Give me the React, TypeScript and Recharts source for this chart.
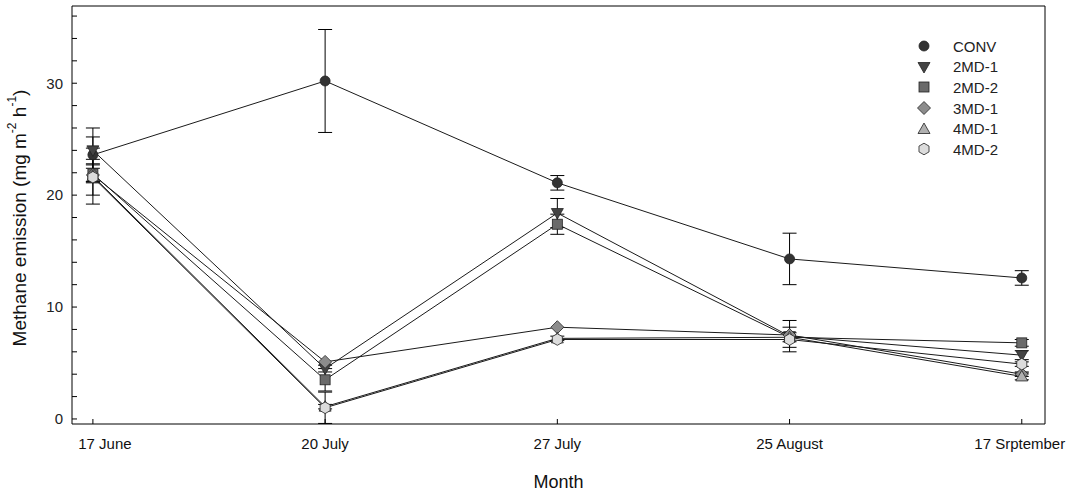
import React from 'react';
import { LineChart, Line, XAxis, YAxis, ErrorBar, ReferenceLine } from 'recharts';

// sampling dates (category axis)
const months = ['17 June', '20 July', '27 July', '25 August', '17 Srptember'];

// methane emission means and standard errors
const conv = [23.6, 30.2, 21.1, 14.3, 12.6];
const convErr = [2.4, 4.6, 0.65, 2.3, 0.65];
const md2a = [24.0, 4.5, 18.4, 7.4, 5.7];
const md2aErr = [1.2, 0.3, 1.3, 1.4, 0.4];
const md2b = [21.9, 3.5, 17.4, 7.3, 6.8];
const md2bErr = [0.8, 1.0, 0.9, 0.4, 0.3];
const md3a = [21.8, 5.1, 8.2, 7.5, 4.0];
const md3aErr = [0.6, 0, 0, 0, 0.2];
const md4a = [21.7, 1.1, 7.2, 7.3, 3.8];
const md4aErr = [2.5, 0.2, 0.2, 0.9, 0.3];
const md4b = [21.6, 1.0, 7.1, 7.1, 4.9];
const md4bErr = [1.6, 1.4, 0, 0, 0.2];

const yTicks = [0, 2, 4, 6, 8, 10, 12, 14, 16, 18, 20, 22, 24, 26, 28, 30, 32, 34, 36];
const yDomain: [number, number] = [-0.45, 36.9];

type Kind = 'circle' | 'triDown' | 'square' | 'diamond' | 'triUp' | 'hexagon';

const series: { name: string; key: string; values: number[]; errors: number[]; fill: string; kind: Kind }[] = [
  { name: 'CONV', key: 'conv', values: conv, errors: convErr, fill: '#333333', kind: 'circle' },
  { name: '2MD-1', key: 'md2a', values: md2a, errors: md2aErr, fill: '#444444', kind: 'triDown' },
  { name: '2MD-2', key: 'md2b', values: md2b, errors: md2bErr, fill: '#6a6a6a', kind: 'square' },
  { name: '3MD-1', key: 'md3a', values: md3a, errors: md3aErr, fill: '#8c8c8c', kind: 'diamond' },
  { name: '4MD-1', key: 'md4a', values: md4a, errors: md4aErr, fill: '#b0b0b0', kind: 'triUp' },
  { name: '4MD-2', key: 'md4b', values: md4b, errors: md4bErr, fill: '#dcdcdc', kind: 'hexagon' },
];

const data = months.map((m, i) => {
  const row: any = { x: i, month: m };
  series.forEach((s) => {
    row[s.key] = s.values[i];
    row[s.key + 'Err'] = s.errors[i] || null;
  });
  return row;
});

const Marker = ({ kind, cx, cy, fill }: { kind: Kind; cx: number; cy: number; fill: string }) => {
  const common = { fill, stroke: '#222', strokeWidth: 0.8 };
  switch (kind) {
    case 'circle':
      return <circle cx={cx} cy={cy} r={5} {...common} />;
    case 'triDown':
      return <polygon points={`${cx - 6},${cy - 4.5} ${cx + 6},${cy - 4.5} ${cx},${cy + 6}`} {...common} />;
    case 'triUp':
      return <polygon points={`${cx - 6},${cy + 4.5} ${cx + 6},${cy + 4.5} ${cx},${cy - 6}`} {...common} />;
    case 'square':
      return <rect x={cx - 5} y={cy - 5} width={10} height={10} {...common} />;
    case 'diamond':
      return <polygon points={`${cx},${cy - 6.5} ${cx + 6.5},${cy} ${cx},${cy + 6.5} ${cx - 6.5},${cy}`} {...common} />;
    default: {
      const pts = [0, 1, 2, 3, 4, 5]
        .map((k) => {
          const a = ((-90 + 60 * k) * Math.PI) / 180;
          return `${cx + 5.8 * Math.cos(a)},${cy + 5.8 * Math.sin(a)}`;
        })
        .join(' ');
      return <polygon points={pts} {...common} />;
    }
  }
};

const LegendBox = () => (
  <div
    style={{
      position: 'absolute',
      left: 914,
      top: 36,
      fontFamily: '"Liberation Sans", Arial, sans-serif',
      fontSize: 15,
      color: '#222',
    }}
  >
    {series.map((s) => (
      <div key={s.key} style={{ display: 'flex', alignItems: 'center', height: 20.6 }}>
        <svg width={20} height={16} style={{ marginRight: 19 }}>
          <Marker kind={s.kind} cx={10} cy={8} fill={s.fill} />
        </svg>
        <span>{s.name}</span>
      </div>
    ))}
  </div>
);

const YLabel = (props: any) => {
  const vb = props.viewBox || {};
  const cx = (vb.x || 0) + 19;
  const cy = (vb.y || 0) + (vb.height || 0) / 2 + 3;
  return (
    <text
      x={cx}
      y={cy}
      transform={`rotate(-90 ${cx} ${cy})`}
      textAnchor="middle"
      dominantBaseline="central"
      fontSize={19}
      fill="#111"
    >
      Methane emission (mg m
      <tspan fontSize={12} dy={-7}>-2</tspan>
      <tspan dy={7}> h</tspan>
      <tspan fontSize={12} dy={-7}>-1</tspan>
      <tspan dy={7}>)</tspan>
    </text>
  );
};

const XLabel = (props: any) => {
  const vb = props.viewBox || {};
  return (
    <text x={(vb.x || 0) + (vb.width || 0) / 2} y={(vb.y || 0) + 64} textAnchor="middle" fontSize={18} fill="#111">
      Month
    </text>
  );
};

const XTick = (props: any) => {
  const { x, y, payload } = props;
  const shift = payload.value === 0 ? 12 : payload.value === 4 ? -2 : 0;
  return (
    <text x={x + shift} y={y} dy={11.5} textAnchor="middle" fontSize={15} fill="#111">
      {months[payload.value]}
    </text>
  );
};

export default function App() {
  return (
    <div
      style={{
        position: 'absolute',
        left: 0,
        top: 0,
        width: 1068,
        height: 498,
        background: '#fff',
        fontFamily: '"Liberation Sans", Arial, sans-serif',
      }}
    >
      <LineChart width={1068} height={498} data={data} margin={{ top: 6, right: 0, bottom: 0, left: 0 }}>
        <XAxis
          dataKey="x"
          type="number"
          domain={[-0.09, 4.1]}
          ticks={[0, 1, 2, 3, 4]}
          height={74}
          tick={<XTick />}
          tickSize={-5}
          tickMargin={18}
          stroke="#000"
          allowDataOverflow
          label={<XLabel />}
        />
        <YAxis
          type="number"
          domain={yDomain}
          ticks={yTicks}
          tickFormatter={(v: number) => (v % 10 === 0 ? String(v) : '')}
          width={72}
          tickSize={-5}
          tickMargin={14}
          tick={{ fontSize: 15, fill: '#222' }}
          stroke="#000"
          allowDataOverflow
          label={<YLabel />}
        />
        <YAxis
          yAxisId="right"
          orientation="right"
          type="number"
          domain={yDomain}
          ticks={yTicks}
          width={23}
          tick={false}
          tickSize={-5}
          stroke="#000"
          allowDataOverflow
        />
        <ReferenceLine y={yDomain[1]} stroke="#000" strokeWidth={1} />
        {series.map((s) => (
          <Line
            key={s.key}
            dataKey={s.key}
            name={s.name}
            type="linear"
            stroke="#1a1a1a"
            strokeWidth={1}
            isAnimationActive={false}
            activeDot={false}
            dot={(p: any) => (
              <Marker key={`${s.key}-${p.index}`} kind={s.kind} cx={p.cx} cy={p.cy} fill={s.fill} />
            )}
          >
            <ErrorBar dataKey={s.key + 'Err'} width={7} stroke="#000" strokeWidth={1} direction="y" isAnimationActive={false} />
          </Line>
        ))}
      </LineChart>
      <LegendBox />
    </div>
  );
}
